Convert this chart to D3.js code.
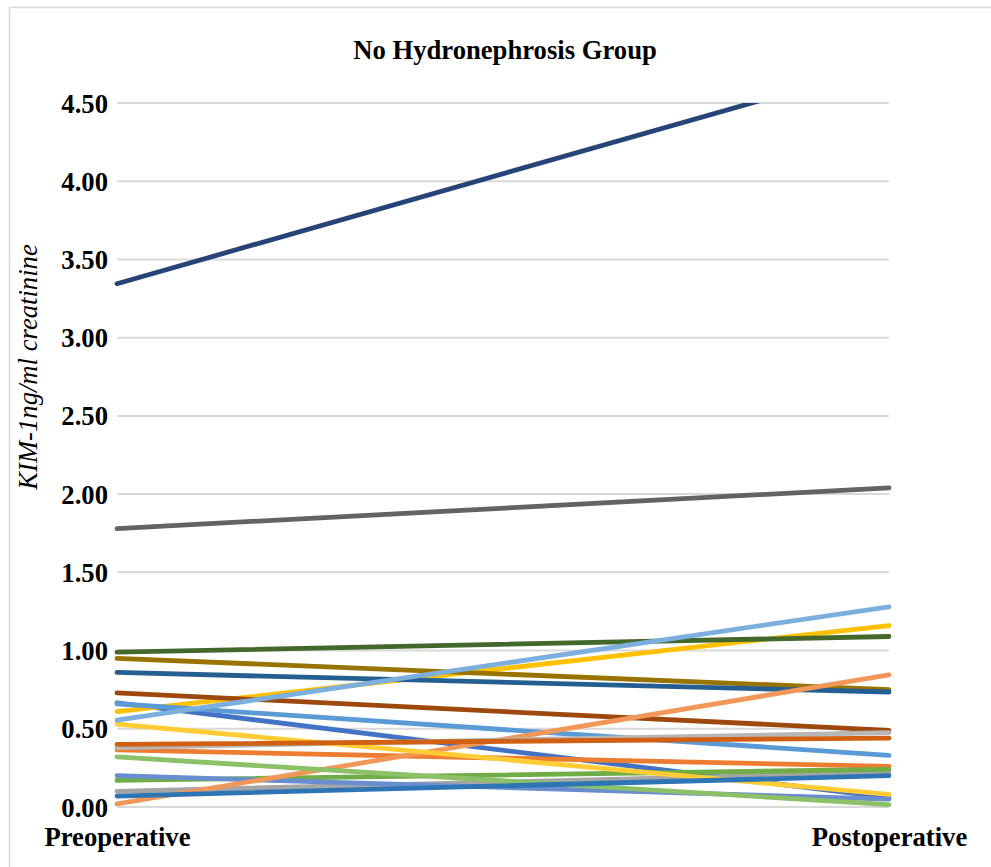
<!DOCTYPE html>
<html>
<head>
<meta charset="utf-8">
<script src="https://cdn.jsdelivr.net/npm/d3@7"></script>
<style>
  html, body { margin: 0; padding: 0; background: #fff; }
  svg { display: block; }
</style>
</head>
<body>
<svg id="chart" width="991" height="867"></svg>
<script>
const title = "No Hydronephrosis Group";
const yAxisTitle = "KIM-1ng/ml creatinine";
const categories = ["Preoperative", "Postoperative"];
const yTicks = [0, 0.5, 1, 1.5, 2, 2.5, 3, 3.5, 4, 4.5];

// Each series: [preoperative, postoperative]
const seriesColors = [
  "#4472C4", "#ED7D31", "#A5A5A5", "#FFC000", "#5B9BD5", "#70AD47",
  "#264478", "#9E480E", "#636363", "#997300", "#255E91", "#43682B",
  "#698ED0", "#F1975A", "#B7B7B7", "#FFCD33", "#7CAFDD", "#8CC168",
  "#2E75B6", "#D26012"
];
const seriesValues = [
  [0.665, 0.06],
  [0.365, 0.26],
  [0.10, 0.22],
  [0.61, 1.16],
  [0.66, 0.33],
  [0.17, 0.24],
  [3.345, 4.75],
  [0.73, 0.49],
  [1.78, 2.04],
  [0.95, 0.75],
  [0.86, 0.735],
  [0.99, 1.09],
  [0.20, 0.05],
  [0.02, 0.845],
  [0.38, 0.475],
  [0.53, 0.08],
  [0.555, 1.28],
  [0.32, 0.015],
  [0.07, 0.20],
  [0.40, 0.44]
];

const svg = d3.select("#chart");
const serif = "'Liberation Serif', 'Times New Roman', 'DejaVu Serif', serif";
const fs = 26.67;

// chart border
svg.append("rect")
  .attr("x", 9.5).attr("y", 7.5)
  .attr("width", 1000).attr("height", 900)
  .attr("fill", "none").attr("stroke", "#D9D9D9").attr("stroke-width", 1.5);

const x = d3.scalePoint().domain(categories).range([117, 889]);
const y = d3.scaleLinear().domain([0, 4.5]).range([807, 103]);

// gridlines
svg.append("g").selectAll("line").data(yTicks).join("line")
  .attr("x1", 117).attr("x2", 889)
  .attr("y1", d => y(d)).attr("y2", d => y(d))
  .attr("stroke", "#D9D9D9").attr("stroke-width", 2);

// y axis labels
const yAxis = d3.axisLeft(y).tickValues(yTicks).tickFormat(d3.format(".2f")).tickSize(0).tickPadding(0);
const ga = svg.append("g").attr("transform", "translate(108,0)").call(yAxis);
ga.select(".domain").remove();
ga.selectAll("text")
  .attr("font-family", serif).attr("font-weight", "bold")
  .attr("font-size", fs).attr("fill", "#000").attr("dy", "0.34em");

// x axis labels
const xAxis = d3.axisBottom(x).tickSize(0).tickPadding(0);
const gx = svg.append("g").attr("transform", "translate(0,846)").call(xAxis);
gx.select(".domain").remove();
gx.selectAll("text")
  .attr("font-family", serif).attr("font-weight", "bold")
  .attr("font-size", fs).attr("fill", "#000").attr("dy", 0);

// clip
svg.append("clipPath").attr("id", "plotclip")
  .append("rect").attr("x", 0).attr("y", y(4.5)).attr("width", 991).attr("height", 867);

const line = d3.line().x((d, i) => x(categories[i])).y(d => y(d));
svg.append("g").attr("clip-path", "url(#plotclip)")
  .selectAll("path").data(seriesValues).join("path")
  .attr("d", d => line(d))
  .attr("fill", "none")
  .attr("stroke", (d, i) => seriesColors[i])
  .attr("stroke-width", 4.8)
  .attr("stroke-linecap", "round");

// title
svg.append("text")
  .attr("x", 505).attr("y", 59)
  .attr("text-anchor", "middle")
  .attr("font-family", serif).attr("font-weight", "bold")
  .attr("font-size", fs).attr("fill", "#000")
  .text(title);

// y axis title
svg.append("text")
  .attr("transform", "translate(37,367) rotate(-90)")
  .attr("text-anchor", "middle")
  .attr("font-family", serif).attr("font-style", "italic")
  .attr("font-size", fs).attr("fill", "#000")
  .text(yAxisTitle);
</script>
</body>
</html>
